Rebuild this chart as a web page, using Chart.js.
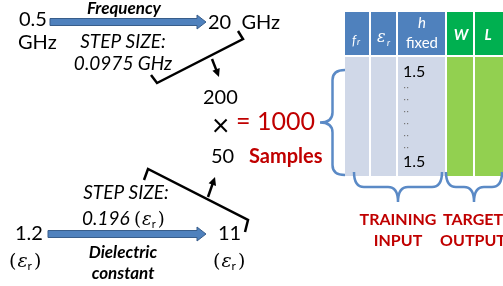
<!DOCTYPE html>
<html>
<head>
<meta charset="utf-8">
<script src="https://cdn.jsdelivr.net/npm/chart.js@4.4.1/dist/chart.umd.min.js"></script>
<style>
  html, body { margin: 0; padding: 0; background: #fff; }
  #c { display: block; }
</style>
</head>
<body>
<canvas id="c" width="503" height="286"></canvas>
<script>
// sweep parameters
const freqRange = ['0.5', '20'];
const freqUnit = 'GHz';
const freqStep = '0.0975 GHz';
const epsRange = ['1.2', '11'];
const epsStep = '0.196';
const sampleCounts = ['200', '50'];
const sampleTotal = '1000';
const tableColumns = ['fr', 'εr', 'h', 'W', 'L'];
const hFixedValues = ['1.5', '1.5'];
const groupLabels = [['TRAINING', 'INPUT'], ['TARGET', 'OUTPUT']];

const FONT = 'Lato, "Open Sans", sans-serif';
const BLUE = '#4F81BD';
const RED = '#C00000';

// bracket paths (in the plain 0..503 / 0..286 scale frame)
const topBracket = [{x: 238, y: 31}, {x: 243, y: 39}, {x: 157, y: 83}, {x: 151, y: 75}];
const bottomBracket = [{x: 144, y: 180}, {x: 148, y: 169}, {x: 248, y: 220}, {x: 245, y: 232}];

const diagram = {
  id: 'diagram',
  afterDatasetsDraw(chart) {
    const ctx = chart.ctx;
    const sx = chart.scales.x, sy = chart.scales.y;
    const X = v => sx.getPixelForValue(v);
    const Y = v => sy.getPixelForValue(v);

    function text(str, x, y, font, color, align) {
      ctx.font = font;
      ctx.fillStyle = color || '#000';
      ctx.textAlign = align || 'left';
      ctx.textBaseline = 'alphabetic';
      ctx.fillText(str, X(x), Y(y));
    }
    function epsText(x, y, size, color) {
      // (ε r) with subscript r
      ctx.textAlign = 'left';
      ctx.fillStyle = color || '#000';
      let px = X(x);
      ctx.font = size + 'px "DejaVu Serif", serif';
      ctx.fillText('(', px, Y(y));
      px += ctx.measureText('(').width + 1;
      ctx.font = 'italic ' + size + 'px "DejaVu Serif", serif';
      ctx.fillText('ε', px, Y(y));
      px += ctx.measureText('ε').width;
      ctx.font = Math.round(size * 0.62) + 'px ' + FONT;
      ctx.fillText('r', px, Y(y) + 3);
      px += ctx.measureText('r').width + 2;
      ctx.font = size + 'px "DejaVu Serif", serif';
      ctx.fillText(')', px, Y(y));
    }
    function blockArrow(x1, x2, y) {
      const h = 3.5, head = 9, hw = 7;
      ctx.beginPath();
      ctx.moveTo(X(x1), Y(y) - h);
      ctx.lineTo(X(x2) - head, Y(y) - h);
      ctx.lineTo(X(x2) - head, Y(y) - hw);
      ctx.lineTo(X(x2), Y(y));
      ctx.lineTo(X(x2) - head, Y(y) + hw);
      ctx.lineTo(X(x2) - head, Y(y) + h);
      ctx.lineTo(X(x1), Y(y) + h);
      ctx.closePath();
      ctx.fillStyle = BLUE;
      ctx.fill();
      ctx.strokeStyle = '#385D8A';
      ctx.lineWidth = 1;
      ctx.stroke();
    }
    function lineArrow(x1, y1, x2, y2) {
      ctx.strokeStyle = '#000';
      ctx.fillStyle = '#000';
      ctx.lineWidth = 2.5;
      const a = Math.atan2(Y(y2) - Y(y1), X(x2) - X(x1));
      const ex = X(x2) - 6 * Math.cos(a), ey = Y(y2) - 6 * Math.sin(a);
      ctx.beginPath();
      ctx.moveTo(X(x1), Y(y1));
      ctx.lineTo(ex, ey);
      ctx.stroke();
      ctx.beginPath();
      ctx.moveTo(X(x2), Y(y2));
      ctx.lineTo(X(x2) - 9 * Math.cos(a - 0.45), Y(y2) - 9 * Math.sin(a - 0.45));
      ctx.lineTo(X(x2) - 9 * Math.cos(a + 0.45), Y(y2) - 9 * Math.sin(a + 0.45));
      ctx.closePath();
      ctx.fill();
    }
    function vBrace(x, y1, y2, tipX) {
      // brace opening to the right, tip at left
      const ym = (y1 + y2) / 2, mx = (x + tipX) / 2;
      ctx.beginPath();
      ctx.moveTo(X(x), Y(y1));
      ctx.quadraticCurveTo(X(mx), Y(y1), X(mx), Y(y1 + 10));
      ctx.lineTo(X(mx), Y(ym - 10));
      ctx.quadraticCurveTo(X(mx), Y(ym), X(tipX), Y(ym));
      ctx.quadraticCurveTo(X(mx), Y(ym), X(mx), Y(ym + 10));
      ctx.lineTo(X(mx), Y(y2 - 10));
      ctx.quadraticCurveTo(X(mx), Y(y2), X(x), Y(y2));
      ctx.stroke();
    }
    function hBrace(x1, x2, y, tipY) {
      const xm = (x1 + x2) / 2, my = (y + tipY) / 2;
      ctx.beginPath();
      ctx.moveTo(X(x1), Y(y));
      ctx.quadraticCurveTo(X(x1), Y(my), X(x1 + 10), Y(my));
      ctx.lineTo(X(xm - 10), Y(my));
      ctx.quadraticCurveTo(X(xm), Y(my), X(xm), Y(tipY));
      ctx.quadraticCurveTo(X(xm), Y(my), X(xm + 10), Y(my));
      ctx.lineTo(X(x2 - 10), Y(my));
      ctx.quadraticCurveTo(X(x2), Y(my), X(x2), Y(y));
      ctx.stroke();
    }

    ctx.save();

    // ---- frequency sweep ----
    text(freqRange[0], 19, 26, '20px ' + FONT);
    text(freqUnit, 18, 49, '20px ' + FONT);
    blockArrow(50, 206, 22);
    text('Frequency', 124, 14, 'italic bold 17px ' + FONT, '#000', 'center');
    text('STEP SIZE:', 123, 48, 'italic 19px ' + FONT, '#000', 'center');
    text(freqStep, 123, 70, 'italic 19px ' + FONT, '#000', 'center');
    text(freqRange[1] + '  ' + freqUnit, 208, 29, '20px ' + FONT);
    lineArrow(212, 59, 219, 77);

    // ---- sample count ----
    text(sampleCounts[0], 203, 104, '20px ' + FONT);
    text('×', 212, 136, '30px ' + FONT);
    text('= ' + sampleTotal, 236, 130, '25px ' + FONT, RED);
    text(sampleCounts[1], 211, 163, '20px ' + FONT);
    text('Samples', 249, 163, 'bold 20px ' + FONT, RED);

    // ---- dielectric sweep ----
    lineArrow(208, 197, 215, 177);
    text('STEP SIZE:', 126, 199, 'italic 19px ' + FONT, '#000', 'center');
    ctx.font = 'italic 19px ' + FONT;
    const stepW = ctx.measureText(epsStep + ' ').width;
    text(epsStep + ' ', 82, 225, 'italic 19px ' + FONT);
    epsText(82 + stepW, 225, 18);
    text(epsRange[0], 15, 240, '20px ' + FONT);
    epsText(9, 267, 19);
    blockArrow(48, 206, 234);
    text(epsRange[1], 218, 240, '20px ' + FONT);
    epsText(213, 267, 19);
    text('Dielectric', 123, 258, 'italic bold 17px ' + FONT, '#000', 'center');
    text('constant', 123, 279, 'italic bold 17px ' + FONT, '#000', 'center');

    // ---- table ----
    const colX = [345, 371, 398, 447, 475, 503];
    const headTop = 12, headBot = 55, bodyTop = 57, bodyBot = 176;
    for (let i = 0; i < tableColumns.length; i++) {
      const x1 = colX[i], x2 = colX[i + 1] - (i < tableColumns.length - 1 ? 2 : 0);
      const isOut = i >= 3;
      ctx.fillStyle = isOut ? '#00B050' : BLUE;
      ctx.fillRect(X(x1), Y(headTop), X(x2) - X(x1), Y(headBot) - Y(headTop));
      ctx.fillStyle = isOut ? '#92D050' : '#D0D8E8';
      ctx.fillRect(X(x1), Y(bodyTop), X(x2) - X(x1), Y(bodyBot) - Y(bodyTop));
    }
    // header labels
    ctx.fillStyle = '#fff';
    ctx.textAlign = 'left';
    ctx.font = 'italic 13px ' + FONT;
    ctx.fillText('f', X(352), Y(45));
    ctx.font = 'italic 9px ' + FONT;
    ctx.fillText('r', X(357), Y(45));
    ctx.font = 'italic 16px "DejaVu Serif", serif';
    ctx.fillText('ε', X(377), Y(42));
    ctx.font = 'italic 9px ' + FONT;
    ctx.fillText('r', X(387), Y(46));
    ctx.textAlign = 'center';
    ctx.font = 'italic 15px ' + FONT;
    ctx.fillText(tableColumns[2], X(422), Y(28));
    ctx.font = '15px ' + FONT;
    ctx.fillText('fixed', X(422), Y(48));
    ctx.font = 'italic bold 15px ' + FONT;
    ctx.fillText(tableColumns[3], X(461), Y(40));
    ctx.fillText(tableColumns[4], X(488), Y(40));
    // h column values
    ctx.fillStyle = '#000';
    ctx.textAlign = 'left';
    ctx.font = '16px ' + FONT;
    ctx.fillText(hFixedValues[0], X(403), Y(77));
    ctx.fillText(hFixedValues[1], X(403), Y(167));
    ctx.fillStyle = '#777';
    for (let k = 0; k < 6; k++) {
      const yy = Y(87 + k * 12);
      ctx.fillRect(X(404), yy, 1.2, 1.2);
      ctx.fillRect(X(407), yy, 1.2, 1.2);
    }

    // braces
    ctx.strokeStyle = '#5B8AC6';
    ctx.lineWidth = 2.5;
    vBrace(345, 70, 175, 320);
    hBrace(354, 442, 172, 202);
    hBrace(446, 502, 172, 202);

    // group labels
    groupLabels.forEach((lines, i) => {
      const cx = i === 0 ? 398 : 473;
      text(lines[0], cx, 225, 'bold 16px ' + FONT, RED, 'center');
      text(lines[1], cx, 246, 'bold 16px ' + FONT, RED, 'center');
    });

    ctx.restore();
  }
};

new Chart(document.getElementById('c'), {
  type: 'scatter',
  data: {
    datasets: [
      { data: topBracket, showLine: true, borderColor: '#000', borderWidth: 2.5, pointRadius: 0, fill: false },
      { data: bottomBracket, showLine: true, borderColor: '#000', borderWidth: 2.5, pointRadius: 0, fill: false }
    ]
  },
  options: {
    responsive: false,
    animation: false,
    layout: { padding: 0 },
    plugins: { legend: { display: false }, tooltip: { enabled: false } },
    scales: {
      x: { type: 'linear', min: 0, max: 503, display: false },
      y: { type: 'linear', min: 0, max: 286, reverse: true, display: false }
    }
  },
  plugins: [diagram]
});
</script>
</body>
</html>
